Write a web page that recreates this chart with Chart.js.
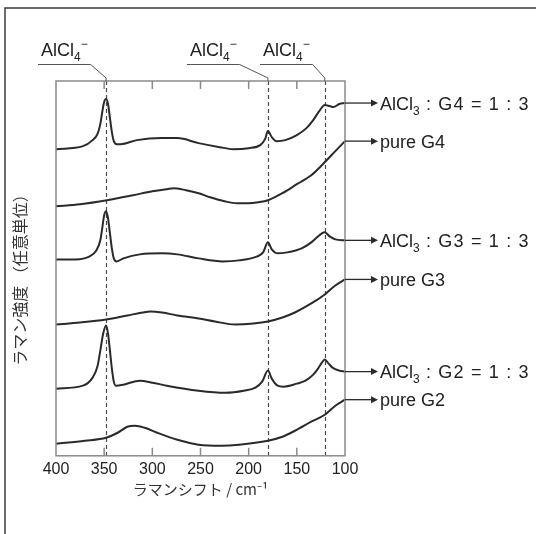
<!DOCTYPE html>
<html>
<head>
<meta charset="utf-8">
<script src="https://cdn.jsdelivr.net/npm/chart.js@4.4.1/dist/chart.umd.min.js"></script>
<style>
  html, body { margin: 0; padding: 0; background: #fff; }
  #wrap { width: 536px; height: 534px; }
</style>
</head>
<body>
<div id="wrap"><canvas id="raman" width="536" height="534"></canvas></div>
<script>
// Raman spectra, AlCl3 / glyme mixtures vs pure glymes (intensity in arbitrary units, offset per trace)

// AlCl3 : G4 = 1 : 3
const wnG4Mix  = [400,372,362,357,354,352,350,348,346,344,342,340,337,333,316,290,274,252,230,216,200,188,183,180,176,171,162,150,140,133,126,121,116,112,106,100];
const intG4Mix = [306,309,315,321,331,343,353,356,351,337,323,314,311,311,315,317,317,312,308,306,307,310,316,324,318,314,315,320,327,335,345,350,349,348,351,352];

// pure G4
const wnG4  = [400,375,347,320,300,285,278,265,252,240,225,212,200,190,180,165,150,135,123,110,100];
const intG4 = [249,251,255,260,264,266,267,265,262,258,254,252,252,253,255,262,271,280,291,304,314];

// AlCl3 : G3 = 1 : 3
const wnG3Mix  = [400,380,365,358,354,352,350,348,346,344,342,340,337,330,313,290,274,252,227,210,191,185,180,176,170,160,145,135,129,124,121,116,110,100];
const intG3Mix = [196,196,199,205,215,227,240,244,237,222,207,197,194,197,201,202,201,197,194,195,199,203,213,206,202,203,207,213,218,222,223,219,216,215];

// pure G3
const wnG3  = [400,375,348,326,310,302,290,274,252,235,214,195,180,165,152,135,121,110,100];
const intG3 = [131,133,136,140,143,144,143,140,137,134,131,132,134,138,143,152,161,170,176];

// AlCl3 : G2 = 1 : 3
const wnG2Mix  = [400,372,362,357,354,351,348,346,344,342,340,338,330,313,300,285,252,224,205,193,186,180,176,170,164,150,141,133,128,124,121,117,113,106,100];
const intG2Mix = [67,70,78,89,105,122,130,122,105,87,74,70,71,75,73,70,65,63,65,68,74,85,77,70,69,72,75,81,87,93,96,92,88,85,84];

// pure G2
const wnG2  = [400,370,348,336,326,318,308,295,274,252,228,210,180,165,152,135,121,110,100];
const intG2 = [12,15,18,23,29,30,28,23,16,11,10,11,15,19,25,34,41,50,56];

const seriesX = [wnG4Mix, wnG4, wnG3Mix, wnG3, wnG2Mix, wnG2];
const seriesY = [intG4Mix, intG4, intG3Mix, intG3, intG2Mix, intG2];
// label parts: [base, subscript, rest]
const seriesLabels = [
  ['AlCl', '3', ' : G4 = 1 : 3'],
  ['pure G4', '', ''],
  ['AlCl', '3', ' : G3 = 1 : 3'],
  ['pure G3', '', ''],
  ['AlCl', '3', ' : G2 = 1 : 3'],
  ['pure G2', '', '']
];

const bandPositions = [348, 180, 121];   // AlCl4- bands (dashed)
const bandLabelLeft = [41, 190, 263];    // where each band label text starts
const xMin = 100, xMax = 400, xStep = 50;
const yMin = 0, yMax = 374;

const LINE = '#2a2a2a';
const GRAYLINE = '#8a8a8a';
const LATIN = '"Liberation Sans", Arial, sans-serif';
const CJK = '"Noto Sans CJK JP", "Noto Sans", sans-serif';

function drawChem(ctx, parts, x, y, size, sup){
  // base text, subscript, optional superscript, rest
  ctx.textBaseline = 'alphabetic';
  ctx.textAlign = 'left';
  ctx.font = size + 'px ' + LATIN;
  ctx.fillText(parts[0], x, y);
  x += ctx.measureText(parts[0]).width;
  if(parts[1]){
    ctx.font = Math.round(size*0.68) + 'px ' + LATIN;
    ctx.fillText(parts[1], x, y + size*0.28);
    x += ctx.measureText(parts[1]).width;
  }
  if(sup){
    ctx.font = Math.round(size*0.68) + 'px ' + LATIN;
    ctx.fillText(sup, x, y - size*0.42);
    x += ctx.measureText(sup).width;
  }
  if(parts[2]){
    ctx.font = size + 'px ' + LATIN;
    ctx.letterSpacing = '1.2px';
    ctx.fillText(parts[2], x, y);
    x += ctx.measureText(parts[2]).width;
    ctx.letterSpacing = '0px';
  }
  return x;
}

const decor = {
  id: 'decor',
  beforeDatasetsDraw(chart){
    const ctx = chart.ctx, a = chart.chartArea, xs = chart.scales.x;
    ctx.save();
    // AlCl4- band markers
    ctx.strokeStyle = '#4a4a4a';
    ctx.lineWidth = 1.2;
    ctx.setLineDash([4,3]);
    bandPositions.forEach(function(b){
      const px = Math.round(xs.getPixelForValue(b)) + 0.5;
      ctx.beginPath(); ctx.moveTo(px, a.top); ctx.lineTo(px, a.bottom); ctx.stroke();
    });
    ctx.restore();
  },
  afterDraw(chart){
    const ctx = chart.ctx, a = chart.chartArea, xs = chart.scales.x, ys = chart.scales.y;
    ctx.save();

    // outer frame (top and left only)
    ctx.strokeStyle = '#3a3a3a';
    ctx.lineWidth = 1.5;
    ctx.beginPath(); ctx.moveTo(5, 534); ctx.lineTo(5, 8); ctx.lineTo(536, 8); ctx.stroke();

    // plot box
    ctx.strokeStyle = GRAYLINE;
    ctx.lineWidth = 1.5;
    ctx.strokeRect(a.left, a.top, a.right - a.left, a.bottom - a.top);

    // inward ticks top and bottom
    ctx.lineWidth = 1.5;
    for(let v = xMin + xStep; v < xMax; v += xStep){
      const px = xs.getPixelForValue(v);
      ctx.beginPath();
      ctx.moveTo(px, a.bottom); ctx.lineTo(px, a.bottom - 8);
      ctx.moveTo(px, a.top); ctx.lineTo(px, a.top + 8);
      ctx.stroke();
    }

    // band labels with leader lines
    ctx.fillStyle = '#222';
    ctx.strokeStyle = '#555';
    ctx.lineWidth = 1;
    bandPositions.forEach(function(b, i){
      const tx = bandLabelLeft[i];
      const end = drawChem(ctx, ['AlCl', '4', ''], tx, 56, 18, '\u2212');
      const px = xs.getPixelForValue(b);
      const uy = 64.5;
      ctx.beginPath();
      ctx.moveTo(tx - 3, uy); ctx.lineTo(end + 3, uy);
      ctx.lineTo(px, a.top - 3); ctx.lineTo(px, a.top);
      ctx.stroke();
    });

    // arrows to series labels
    seriesY.forEach(function(vals, i){
      const y0 = ys.getPixelForValue(vals[vals.length - 1]);
      const x0 = xs.getPixelForValue(seriesX[i][seriesX[i].length - 1]);
      const tip = 378;
      ctx.strokeStyle = LINE; ctx.fillStyle = LINE;
      ctx.lineWidth = 1.3;
      ctx.beginPath(); ctx.moveTo(x0, y0); ctx.lineTo(tip - 6, y0); ctx.stroke();
      ctx.beginPath(); ctx.moveTo(tip, y0); ctx.lineTo(tip - 7, y0 - 3.5); ctx.lineTo(tip - 7, y0 + 3.5); ctx.closePath(); ctx.fill();
      ctx.fillStyle = '#222';
      drawChem(ctx, seriesLabels[i], tip + 2, y0 + 6.5, 18);
    });

    // y axis title (vertical)
    ctx.fillStyle = '#333';
    ctx.font = '16px ' + CJK;
    ctx.textAlign = 'center';
    ctx.textBaseline = 'middle';
    ctx.translate(20, 276);
    ctx.rotate(-Math.PI/2);
    ctx.fillText('ラマン強度 （任意単位）', 0, 0);
    ctx.restore();
  }
};

new Chart(document.getElementById('raman'), {
  type: 'line',
  data: {
    datasets: seriesY.map(function(vals, i){
      return {
        label: seriesLabels[i].join(''),
        data: vals.map(function(v, j){ return { x: seriesX[i][j], y: v }; }),
        borderColor: LINE,
        borderWidth: 2,
        pointRadius: 0,
        fill: false,
        cubicInterpolationMode: 'monotone'
      };
    })
  },
  options: {
    responsive: false,
    animation: false,
    layout: { padding: { left: 56, right: 191, top: 81, bottom: 36 } },
    plugins: { legend: { display: false }, tooltip: { enabled: false } },
    scales: {
      x: {
        type: 'linear', min: xMin, max: xMax, reverse: true,
        grid: { display: false, drawTicks: false },
        border: { display: false },
        ticks: { stepSize: xStep, color: '#222', padding: 4, maxRotation: 0, font: { family: LATIN, size: 16 } },
        title: { display: true, text: 'ラマンシフト / cm⁻¹', color: '#333', padding: { top: -3, bottom: 0 }, font: { family: CJK, size: 15 } }
      },
      y: { display: false, min: yMin, max: yMax }
    }
  },
  plugins: [decor]
});
</script>
</body>
</html>
